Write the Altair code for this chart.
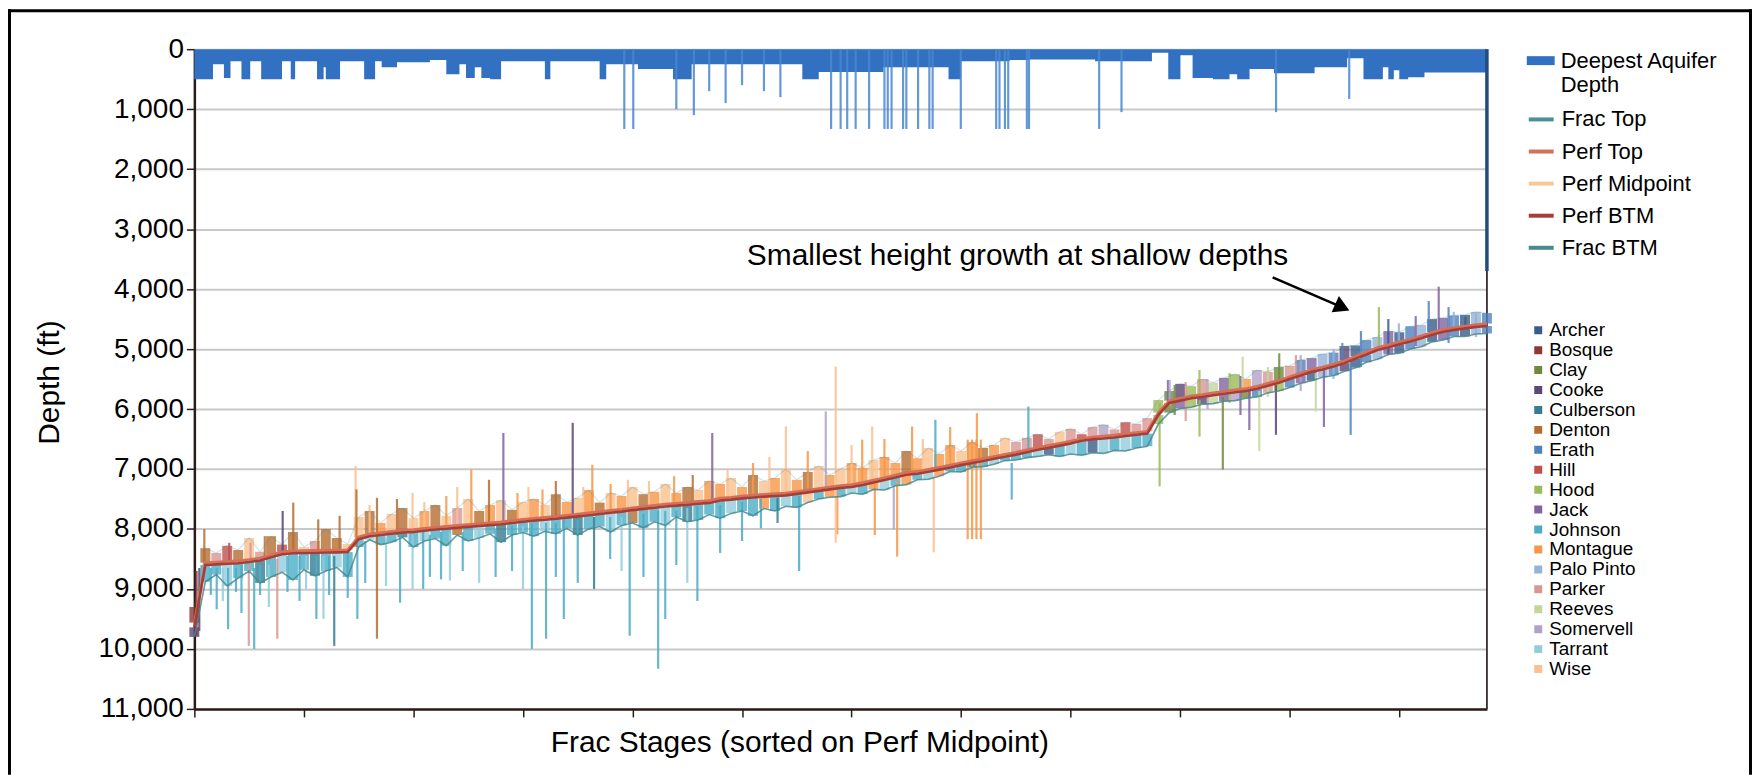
import altair as alt
import pandas as pd

FONT = "Liberation Sans"

# ------------------------------------------------------------------ data
# frac stages sampled every 100 stages along the sorted x axis
STAGES = list(range(0, 11900, 100))

PERF_MID = [9600, 8580, 8570, 8560, 8550, 8530, 8505, 8450, 8400, 8385,
            8380, 8375, 8372, 8370, 8365, 8150, 8100, 8080, 8060, 8040,
            8030, 8010, 7990, 7975, 7960, 7945, 7930, 7915, 7900, 7880,
            7860, 7840, 7825, 7810, 7790, 7770, 7750, 7730, 7710, 7690,
            7665, 7645, 7625, 7605, 7590, 7575, 7560, 7545, 7505, 7490,
            7470, 7455, 7440, 7430, 7420, 7395, 7370, 7345, 7320, 7295,
            7280, 7245, 7205, 7165, 7120, 7075, 7060, 7025, 6990, 6955,
            6915, 6880, 6845, 6810, 6775, 6740, 6700, 6660, 6625, 6590,
            6555, 6510, 6485, 6470, 6455, 6430, 6410, 6390, 6080, 5880,
            5840, 5800, 5780, 5750, 5725, 5700, 5680, 5640, 5590, 5540,
            5480, 5420, 5360, 5320, 5270, 5215, 5140, 5070, 4995, 4950,
            4900, 4855, 4800, 4740, 4690, 4660, 4635, 4610, 4595]

PERF_TOP = [9560, 8560, 8550, 8540, 8530, 8510, 8485, 8430, 8380, 8365,
            8360, 8355, 8352, 8350, 8345, 8130, 8080, 8060, 8040, 8020,
            8010, 7990, 7970, 7955, 7940, 7925, 7910, 7895, 7880, 7860,
            7840, 7820, 7805, 7790, 7770, 7750, 7730, 7710, 7690, 7670,
            7645, 7625, 7605, 7585, 7570, 7555, 7540, 7525, 7485, 7470,
            7450, 7435, 7420, 7410, 7400, 7375, 7350, 7325, 7300, 7275,
            7260, 7225, 7185, 7145, 7100, 7055, 7040, 7005, 6970, 6935,
            6895, 6860, 6825, 6790, 6755, 6720, 6680, 6640, 6605, 6570,
            6535, 6490, 6465, 6450, 6435, 6410, 6390, 6370, 6060, 5860,
            5820, 5780, 5760, 5730, 5705, 5680, 5660, 5620, 5570, 5520,
            5460, 5400, 5340, 5300, 5250, 5195, 5120, 5050, 4975, 4930,
            4880, 4835, 4780, 4720, 4670, 4640, 4615, 4590, 4575]

PERF_BTM = [9640, 8600, 8590, 8580, 8570, 8550, 8525, 8470, 8420, 8405,
            8400, 8395, 8392, 8390, 8385, 8170, 8120, 8100, 8080, 8060,
            8050, 8030, 8010, 7995, 7980, 7965, 7950, 7935, 7920, 7900,
            7880, 7860, 7845, 7830, 7810, 7790, 7770, 7750, 7730, 7710,
            7685, 7665, 7645, 7625, 7610, 7595, 7580, 7565, 7525, 7510,
            7490, 7475, 7460, 7450, 7440, 7415, 7390, 7365, 7340, 7315,
            7300, 7265, 7225, 7185, 7140, 7095, 7080, 7045, 7010, 6975,
            6935, 6900, 6865, 6830, 6795, 6760, 6720, 6680, 6645, 6610,
            6575, 6530, 6505, 6490, 6475, 6450, 6430, 6410, 6100, 5900,
            5860, 5820, 5800, 5770, 5745, 5720, 5700, 5660, 5610, 5560,
            5500, 5440, 5380, 5340, 5290, 5235, 5160, 5090, 5015, 4970,
            4920, 4875, 4820, 4760, 4710, 4680, 4655, 4630, 4615]

FRAC_TOP = [9300, 8320, 8400, 8280, 8350, 8150, 8380, 8120, 8260, 8050,
            8300, 8200, 8000, 8150, 8250,
            7800, 7700, 7900, 7750, 7650, 7820, 7700, 7600, 7780, 7650,
            7500, 7700, 7600, 7520, 7680, 7550,
            7500, 7600, 7420, 7550, 7480, 7350, 7560, 7400, 7450, 7300,
            7420, 7380, 7250, 7400, 7300, 7350, 7200,
            7250, 7150, 7300, 7100, 7200, 7150, 7000, 7180, 7050, 6950,
            7100, 7000, 6900,
            6980, 6850, 6800, 6900, 6700, 6820, 6650, 6750, 6600, 6700,
            6550, 6650, 6600, 6480, 6550,
            6480, 6420, 6500, 6380, 6330, 6420, 6300, 6260, 6340, 6220,
            6250, 6150,
            5850, 5700, 5580, 5620, 5500, 5560, 5480, 5420, 5500, 5350,
            5380, 5300,
            5280, 5180, 5150, 5080, 5060, 4950, 4940, 4850, 4800, 4700,
            4720, 4620, 4600, 4500, 4480, 4440, 4430, 4380, 4400]

FRAC_BTM = [9800, 8880, 8760, 8950, 8820, 8700, 8900, 8800, 8720, 8850,
            8680, 8780, 8700, 8640, 8800,
            8300, 8180, 8260, 8220, 8140, 8300, 8200, 8160, 8280, 8100,
            8200, 8150, 8080, 8220, 8100, 8060,
            8120, 8040, 8080, 7990, 8100, 8000, 7960, 8050, 7940, 7900,
            7980, 7880, 7940, 7800, 7880, 7850, 7760,
            7820, 7740, 7700, 7780, 7660, 7700, 7620, 7640, 7560, 7500,
            7470, 7460, 7400,
            7420, 7340, 7350, 7280, 7260, 7180, 7170, 7120, 7040, 7050,
            6970, 6960, 6920, 6860, 6850,
            6810, 6790, 6760, 6790, 6750, 6770, 6730, 6740, 6690, 6700,
            6650, 6620,
            6250, 6060, 5990, 5970, 5920, 5910, 5870, 5860, 5820, 5800,
            5730, 5700,
            5640, 5570, 5530, 5470, 5440, 5370, 5310, 5220, 5170, 5090,
            5070, 5000, 4960, 4880, 4850, 4790, 4790, 4750, 4740]

# county of the stages above / below the perforations
UPPER_COUNTY = ["BO", "DE", "PA", "HI", "DE", "WI", "PA", "DE", "HI", "DE",
                "WI", "PA", "DE", "DE", "WI",
                "WI", "DE", "MO", "WI", "DE", "WI", "MO", "DE", "WI", "PA",
                "WI", "DE", "MO", "WI", "DE", "WI",
                "MO", "WI", "DE", "MO", "WI", "MO", "DE", "WI", "MO", "WI",
                "DE", "MO", "WI", "MO", "DE", "WI", "MO",
                "MO", "WI", "MO", "DE", "WI", "MO", "WI", "MO", "DE", "WI",
                "MO", "WI", "MO",
                "MO", "WI", "MO", "MO", "DE", "MO", "WI", "MO", "MO", "WI",
                "MO", "DE", "MO", "WI", "PA",
                "PA", "HI", "PA", "WI", "PA", "HI", "PA", "SO", "PA", "HI",
                "PA", "PA",
                "HO", "CL", "CO", "HO", "PA", "RE", "JA", "HO", "MO", "SO",
                "PA", "CL",
                "PA", "ER", "JA", "PP", "ER", "CO", "AR", "ER", "PP", "JA",
                "AR", "ER", "PP", "AR", "JA", "ER", "AR", "PP", "ER"]

LOWER_COUNTY = ["CO", "JO", "JO", "TA", "JO", "JO", "CU", "JO", "TA", "JO",
                "JO", "CU", "JO", "TA", "JO",
                "JO", "TA", "JO", "JO", "CU", "JO", "TA", "JO", "JO", "DE",
                "JO", "TA", "JO", "CU", "JO", "JO",
                "JO", "TA", "JO", "JO", "CU", "JO", "JO", "TA", "JO", "DE",
                "JO", "JO", "TA", "JO", "CU", "JO", "JO",
                "JO", "TA", "JO", "JO", "MO", "JO", "TA", "JO", "WI", "JO",
                "MO", "JO", "TA",
                "JO", "MO", "TA", "JO", "MO", "JO", "TA", "MO", "JO", "JO",
                "CU", "JO", "TA", "JO", "JO",
                "JO", "TA", "AR", "JO", "TA", "JO", "AR", "TA", "JO", "TA",
                "JO", "JO",
                "HO", "CL", "JA", "HO", "CO", "RE", "JA", "SO", "CL", "ER",
                "PA", "HO",
                "ER", "JA", "AR", "PP", "ER", "CO", "AR", "ER", "PP", "JA",
                "AR", "ER", "PP", "AR", "JA", "ER", "AR", "PP", "ER"]

# individual stages with large height growth: (stage, top ft, bottom ft, county)
SPIKES = [
    (20, 8700, 9780, "BO"), (45, 8650, 9700, "CO"), (150, 8650, 9100, "JO"),
    (204, 8650, 9340, "JO"), (260, 8650, 9200, "TA"), (308, 8650, 9670, "JO"),
    (380, 8650, 9050, "JO"), (430, 8600, 9400, "JO"), (497, 8600, 9950, "PA"),
    (546, 8650, 10000, "JO"), (600, 8600, 9100, "JO"), (680, 8600, 9300, "TA"),
    (757, 8500, 9830, "PA"), (850, 8450, 9050, "JO"), (960, 8450, 9200, "JO"),
    (1020, 8450, 9000, "TA"), (1114, 8450, 9500, "JO"), (1179, 8450, 9500, "TA"),
    (1230, 8450, 9100, "JO"), (1277, 8450, 9950, "CU"), (1400, 8400, 9150, "JO"),
    (1488, 8300, 9500, "JO"), (1560, 8200, 8900, "JO"), (1667, 8100, 9830, "DE"),
    (1750, 8150, 8950, "TA"), (1878, 8100, 9230, "JO"), (1992, 8100, 9000, "TA"),
    (2089, 8050, 9000, "JO"), (2150, 8100, 8800, "JO"), (2252, 8050, 8840, "JO"),
    (2333, 8050, 8860, "TA"), (2450, 8050, 8700, "JO"), (2600, 8000, 8900, "TA"),
    (2750, 8000, 8800, "JO"), (2900, 7950, 8700, "JO"), (3000, 7950, 9000, "TA"),
    (3081, 7900, 10000, "JO"), (3211, 7900, 9830, "JO"), (3300, 7900, 8800, "JO"),
    (3373, 7850, 9500, "JO"), (3500, 7850, 8900, "JO"), (3649, 7800, 9000, "CU"),
    (3796, 7800, 8500, "JO"), (3900, 7800, 8700, "TA"), (3974, 7750, 9780, "JO"),
    (4100, 7750, 8800, "JO"), (4234, 7700, 10330, "JO"), (4299, 7700, 9500, "JO"),
    (4400, 7700, 8600, "JO"), (4500, 7650, 8900, "TA"), (4592, 7620, 9200, "JO"),
    (4800, 7600, 8400, "JO"), (5000, 7550, 8200, "JO"), (5172, 7500, 7990, "JO"),
    (5324, 7480, 7900, "CU"), (5521, 7450, 8700, "JO"), (5870, 7400, 8090, "MO"),
    (6212, 7250, 8100, "MO"), (6385, 7250, 8010, "SO"), (6416, 7200, 8460, "MO"),
    (6750, 7100, 8390, "WI"), (7462, 6900, 7510, "JO"), (8812, 5900, 7290, "HO"),
    (9176, 5850, 6460, "HO"), (9389, 5800, 7010, "CL"), (9631, 5700, 6350, "JA"),
    (9722, 5700, 6700, "RE"), (9874, 5600, 6430, "CO"), (10238, 5400, 6040, "RE"),
    (10312, 5350, 6300, "JA"), (10556, 5200, 6430, "ER"),
    (91, 8000, 8600, "DE"), (318, 8230, 8550, "HI"), (513, 8230, 8550, "PA"),
    (643, 8120, 8500, "DE"), (806, 7700, 8400, "CO"), (903, 7560, 8400, "DE"),
    (1131, 7840, 8370, "DE"), (1326, 7780, 8370, "DE"), (1472, 6950, 8300, "WI"),
    (1480, 7340, 8300, "DE"), (1600, 7600, 8150, "WI"), (1667, 7480, 8100, "DE"),
    (1850, 7500, 8100, "DE"), (1992, 7400, 8030, "WI"), (2100, 7550, 8050, "WI"),
    (2300, 7450, 8000, "MO"), (2400, 7300, 8000, "WI"), (2528, 7010, 7950, "MO"),
    (2690, 7180, 7930, "DE"), (2821, 6400, 7900, "JA"), (2950, 7400, 7900, "MO"),
    (3050, 7300, 7900, "WI"), (3178, 7340, 7830, "MO"), (3300, 7200, 7850, "DE"),
    (3454, 6230, 7790, "CO"), (3550, 7300, 7800, "WI"), (3633, 6930, 7750, "MO"),
    (3800, 7250, 7750, "MO"), (3958, 7180, 7690, "WI"), (4150, 7200, 7700, "WI"),
    (4380, 7120, 7590, "MO"), (4550, 7100, 7600, "DE"), (4728, 6400, 7540, "JA"),
    (4868, 7010, 7500, "WI"), (5100, 6900, 7500, "MO"), (5250, 6800, 7450, "WI"),
    (5400, 6290, 7420, "WI"), (5600, 6700, 7400, "MO"), (5764, 6040, 7340, "SO"),
    (5855, 5290, 8230, "WI"), (6000, 6600, 7300, "WI"), (6097, 6510, 7280, "MO"),
    (6188, 6290, 7240, "WI"), (6300, 6500, 7200, "MO"), (6552, 6290, 7060, "MO"),
    (6650, 6500, 7100, "WI"), (6765, 6180, 7000, "JO"), (6900, 6300, 7000, "MO"),
    (7060, 6510, 8170, "MO"), (7100, 6510, 8170, "MO"), (7140, 6510, 8170, "MO"),
    (7180, 6510, 8170, "MO"), (7144, 6070, 6850, "MO"), (7614, 5960, 6700, "JO"),
    (8888, 5515, 5950, "JA"), (8903, 5515, 5950, "SO"), (8950, 5600, 6100, "CL"),
    (9050, 5550, 6200, "PA"), (9176, 5350, 5800, "HO"), (9250, 5500, 6000, "SO"),
    (9450, 5400, 5900, "HO"), (9550, 5450, 6100, "JA"), (9570, 5130, 5700, "RE"),
    (9800, 5300, 5800, "RE"), (9904, 5070, 5550, "CL"), (10056, 5100, 5480, "PA"),
    (10100, 5100, 5700, "SO"), (10400, 5000, 5500, "PP"), (10480, 4900, 5250, "ER"),
    (10650, 4700, 5300, "ER"), (10814, 4300, 5000, "HO"), (10900, 4500, 5100, "AR"),
    (10996, 4570, 4900, "PP"), (11150, 4450, 4950, "JA"), (11269, 4200, 4700, "ER"),
    (11360, 3960, 4700, "JA"), (11450, 4300, 4900, "ER"), (11497, 4380, 4680, "PP"),
    (11603, 4460, 4650, "AR"), (11700, 4400, 4800, "PP"),
]

# deepest aquifer depth (step series): (stage where the value starts, depth ft)
AQUIFER_STEPS = [
    (0, 500), (170, 250), (270, 480), (330, 200), (430, 500), (510, 200),
    (610, 500), (800, 200), (880, 500), (920, 200), (1120, 500), (1180, 300),
    (1200, 500), (1330, 200), (1550, 500), (1650, 200), (1710, 300), (1850, 220),
    (2150, 180), (2300, 420), (2420, 250), (2480, 480), (2560, 300), (2620, 480),
    (2700, 500), (2800, 200), (3200, 500), (3250, 200), (3700, 500), (3760, 250),
    (4050, 330), (4370, 500), (4540, 250), (5550, 500), (5700, 380), (6290, 300),
    (6885, 500), (6997, 200), (7443, 180), (7628, 170), (8223, 200),
    (8742, 60), (8891, 500), (9002, 100), (9113, 480), (9299, 500), (9450, 420),
    (9520, 500), (9633, 330), (9856, 400), (10227, 300), (10524, 150), (10673, 500),
    (10850, 300), (10900, 500), (10950, 350), (11000, 500), (11081, 470),
    (11230, 387), (11800, 387),
]
AQUIFER_THIN = [
    (3925, 1330), (4007, 1330), (4400, 1000), (4560, 1100), (4700, 700),
    (4850, 900), (5000, 600), (5200, 700), (5350, 800), (5813, 1330),
    (5900, 1330), (5960, 1330), (6037, 1330), (6160, 1330), (6300, 1330),
    (6330, 1330), (6365, 1330), (6470, 1330), (6500, 1330), (6607, 1330),
    (6710, 1330), (6740, 1330), (6997, 1330), (7320, 1330), (7350, 1330),
    (7400, 1330), (7430, 1330), (7600, 1330), (7620, 1330), (8260, 1330),
    (8464, 1050), (9875, 1050), (10543, 830),
]
AQUIFER_END = (11800, 3700)

COUNTY_CODES = {"AR": "Archer", "BO": "Bosque", "CL": "Clay", "CO": "Cooke",
                "CU": "Culberson", "DE": "Denton", "ER": "Erath", "HI": "Hill",
                "HO": "Hood", "JA": "Jack", "JO": "Johnson", "MO": "Montague",
                "PP": "Palo Pinto", "PA": "Parker", "RE": "Reeves",
                "SO": "Somervell", "TA": "Tarrant", "WI": "Wise"}
COUNTY_NAMES = ["Archer", "Bosque", "Clay", "Cooke", "Culberson", "Denton",
                "Erath", "Hill", "Hood", "Jack", "Johnson", "Montague",
                "Palo Pinto", "Parker", "Reeves", "Somervell", "Tarrant", "Wise"]
COUNTY_COLORS = ["#385d8a", "#8c3836", "#71893f", "#5c4776", "#357d91",
                 "#b66d31", "#4f81bd", "#c0504d", "#9bbb59", "#8064a2",
                 "#4bacc6", "#f79646", "#95b3d7", "#d99694", "#c3d69b",
                 "#b2a2c7", "#92cddc", "#fac08f"]

SERIES_NAMES = ["Frac Top", "Perf Top", "Perf Midpoint", "Perf BTM", "Frac BTM"]
SERIES_COLORS = ["#4b8f99", "#d6705a", "#f7c794", "#a83d35", "#47898f"]
AQ_NAME = "Deepest Aquifer Depth"
AQ_COLOR = "#3270c2"

Y_TICKS = [0, 1000, 2000, 3000, 4000, 5000, 6000, 7000, 8000, 9000, 10000, 11000]
X_TICKS = [0, 1000, 2000, 3000, 4000, 5000, 6000, 7000, 8000, 9000, 10000, 11000]

ANNOT_TEXT = "Smallest height growth at shallow depths"
ANNOT_POS = (7515, 3456)
ARROW_FROM = (9844, 3805)
ARROW_HEAD = (10480, 4304)

for arr in (PERF_MID, PERF_TOP, PERF_BTM, FRAC_TOP, FRAC_BTM, UPPER_COUNTY, LOWER_COUNTY):
    assert len(arr) == len(STAGES), len(arr)

# ------------------------------------------------------------------ frames
band = pd.DataFrame({
    "stage": STAGES, "frac_top": FRAC_TOP, "perf_top": PERF_TOP,
    "perf_mid": PERF_MID, "perf_btm": PERF_BTM, "frac_btm": FRAC_BTM,
    "upper": [COUNTY_CODES[c] for c in UPPER_COUNTY],
    "lower": [COUNTY_CODES[c] for c in LOWER_COUNTY],
})
spikes = pd.DataFrame(SPIKES, columns=["stage", "top", "btm", "code"])
spikes["county"] = [COUNTY_CODES[c] for c in spikes["code"]]
aq = pd.DataFrame(AQUIFER_STEPS, columns=["stage", "depth"])
aq["aq"] = AQ_NAME
aq_thin = pd.DataFrame(AQUIFER_THIN, columns=["stage", "depth"])
aq_thin["top"] = 0
aq_end = pd.DataFrame({"stage": [AQUIFER_END[0]], "top": [0], "depth": [AQUIFER_END[1]],
                       "bottom": [Y_TICKS[-1]]})


def series_frame(name, values):
    return pd.DataFrame({"stage": STAGES, "depth": values, "series": name})


# ------------------------------------------------------------------ encodings
XSCALE = alt.Scale(domain=[0, 11800], nice=False, zero=False)
YSCALE = alt.Scale(domain=[0, 11000], nice=False, zero=False, reverse=True)
DARK = "#2b1c18"

XAXIS = alt.Axis(values=X_TICKS, labels=False, ticks=True, tickSize=8,
                 tickColor=DARK, tickWidth=1.5, domainColor=DARK, domainWidth=2.5,
                 grid=False, title="Frac Stages (sorted on Perf Midpoint)",
                 titleFont=FONT, titleFontSize=30, titleFontWeight="normal",
                 titleColor="black", titleX=607, titleY=34, titleAlign="center",
                 titleBaseline="middle")
YAXIS = alt.Axis(values=Y_TICKS, format=",d", labelFont=FONT, labelFontSize=28,
                 labelColor="black", labelPadding=3, labelFlush=False,
                 labelOverlap=False, tickSize=8, tickColor=DARK, tickWidth=1.5,
                 domainColor=DARK, domainWidth=2.5, grid=True, gridColor="#c9c9c9",
                 gridWidth=2, title="Depth (ft)", titleFont=FONT, titleFontSize=30,
                 titleFontWeight="normal", titleColor="black", titleX=-145,
                 titleY=334, titleAngle=270, titleAlign="center",
                 titleBaseline="middle")


def X(f):
    return alt.X(f"{f}:Q", scale=XSCALE, axis=XAXIS)


def Y(f):
    return alt.Y(f"{f}:Q", scale=YSCALE, axis=YAXIS, stack=None)


CSCALE = alt.Scale(domain=COUNTY_NAMES, range=COUNTY_COLORS)
CLEG = alt.Legend(title=None, orient="none", legendX=1339, legendY=272,
                  symbolType="square", symbolSize=4, symbolStrokeWidth=6,
                  symbolOpacity=1, labelFont=FONT, labelFontSize=19,
                  labelColor="black", labelOffset=1.5, rowPadding=0, padding=0,
                  clipHeight=20, labelLimit=300)
SSCALE = alt.Scale(domain=SERIES_NAMES, range=SERIES_COLORS)
SLEG = alt.Legend(title=None, orient="none", legendX=1337, legendY=56,
                  symbolType="stroke", symbolSize=625, symbolStrokeWidth=4,
                  symbolOpacity=1, labelFont=FONT, labelFontSize=22,
                  labelColor="black", labelOffset=6, rowPadding=6.2, padding=0,
                  labelLimit=300)
ASCALE = alt.Scale(domain=[AQ_NAME], range=[AQ_COLOR])
ALEG = alt.Legend(title=None, orient="none", legendX=1337, legendY=-2.5,
                  symbolType="M-1,-0.32L1,-0.32L1,0.32L-1,0.32Z", symbolSize=784,
                  symbolStrokeWidth=0, symbolOpacity=1, labelFont=FONT,
                  labelFontSize=22, labelColor="black", labelOffset=6, padding=0,
                  labelLimit=300,
                  labelExpr="datum.label == 'Deepest Aquifer Depth' ? ['Deepest Aquifer', 'Depth'] : datum.label")

# ------------------------------------------------------------------ layers
aq_area = alt.Chart(aq).mark_area(interpolate="step-after").encode(
    x=X("stage"), y=Y("depth"),
    fill=alt.Fill("aq:N", scale=ASCALE, legend=ALEG))

aq_lines = alt.Chart(aq_thin).mark_rule(strokeWidth=2.2, color="#4a86d0", opacity=0.85).encode(
    x=X("stage"), y=Y("top"), y2=alt.Y2("depth:Q"))

edge_top = alt.Chart(aq_end).mark_rule(strokeWidth=3.5, color="#234b7c").encode(
    x=X("stage"), y=Y("top"), y2=alt.Y2("depth:Q"))
edge_bot = alt.Chart(aq_end).mark_rule(strokeWidth=1.8, color="#3a3030").encode(
    x=X("stage"), y=Y("depth"), y2=alt.Y2("bottom:Q"))

upper_band = alt.Chart(band).mark_rule(strokeWidth=10, opacity=0.8).encode(
    x=X("stage"), y=Y("frac_top"), y2=alt.Y2("perf_top:Q"),
    color=alt.Color("upper:N", scale=CSCALE, legend=CLEG))
lower_band = alt.Chart(band).mark_rule(strokeWidth=10, opacity=0.8).encode(
    x=X("stage"), y=Y("perf_btm"), y2=alt.Y2("frac_btm:Q"),
    color=alt.Color("lower:N", scale=CSCALE, legend=CLEG))

spike_layer = alt.Chart(spikes).mark_rule(strokeWidth=2.2, opacity=0.85).encode(
    x=X("stage"), y=Y("top"), y2=alt.Y2("btm:Q"),
    color=alt.Color("county:N", scale=CSCALE, legend=CLEG))


def line_layer(name, values, width, opacity):
    return alt.Chart(series_frame(name, values)).mark_line(
        strokeWidth=width, opacity=opacity).encode(
        x=X("stage"), y=Y("depth"),
        stroke=alt.Stroke("series:N", scale=SSCALE, legend=SLEG))


frac_top_line = line_layer("Frac Top", FRAC_TOP, 1.2, 0.25)
frac_btm_line = line_layer("Frac BTM", FRAC_BTM, 1.6, 0.85)
perf_mid_line = line_layer("Perf Midpoint", PERF_MID, 2.0, 1.0)
perf_top_line = line_layer("Perf Top", PERF_TOP, 2.6, 1.0)
perf_btm_line = line_layer("Perf BTM", PERF_BTM, 2.6, 1.0)

annot = pd.DataFrame({"stage": [ANNOT_POS[0]], "depth": [ANNOT_POS[1]], "text": [ANNOT_TEXT]})
annot_layer = alt.Chart(annot).mark_text(font=FONT, fontSize=30, color="black",
                                          align="center", baseline="middle").encode(
    x=X("stage"), y=Y("depth"), text="text:N")

arrow = pd.DataFrame({"stage": [ARROW_FROM[0]], "depth": [ARROW_FROM[1]],
                      "stage2": [ARROW_HEAD[0]], "depth2": [ARROW_HEAD[1]]})
arrow_line = alt.Chart(arrow).mark_rule(strokeWidth=2.5, color="black").encode(
    x=X("stage"), y=Y("depth"), x2=alt.X2("stage2:Q"), y2=alt.Y2("depth2:Q"))
arrow_head = alt.Chart(arrow).mark_point(shape="triangle-right", filled=True, size=320,
                                         angle=24, color="black", opacity=1).encode(
    x=X("stage2"), y=Y("depth2"))

one = pd.DataFrame({"k": [0]})
frame_top = alt.Chart(one).mark_rule(strokeWidth=3, color="black").encode(
    x=alt.value(-187), x2=alt.value(1563), y=alt.value(-38.5))
frame_left = alt.Chart(one).mark_rule(strokeWidth=3, color="black").encode(
    x=alt.value(-185.5), y=alt.value(-40), y2=alt.value(728))
frame_right = alt.Chart(one).mark_rule(strokeWidth=3, color="black").encode(
    x=alt.value(1561.5), y=alt.value(-40), y2=alt.value(728))

chart = alt.layer(
    aq_area, aq_lines, edge_top, edge_bot,
    upper_band, lower_band, spike_layer,
    frac_top_line, frac_btm_line, perf_mid_line, perf_top_line, perf_btm_line,
    arrow_line, arrow_head, annot_layer,
    frame_top, frame_left, frame_right,
).properties(
    width=1297, height=662,
    autosize=alt.AutoSizeParams(type="none"),
    padding={"left": 187, "top": 40, "right": 266, "bottom": 66},
    background="white",
).configure_view(stroke=None).configure(font=FONT)

chart.save("out.html", embed_options={"renderer": "svg", "actions": False})
